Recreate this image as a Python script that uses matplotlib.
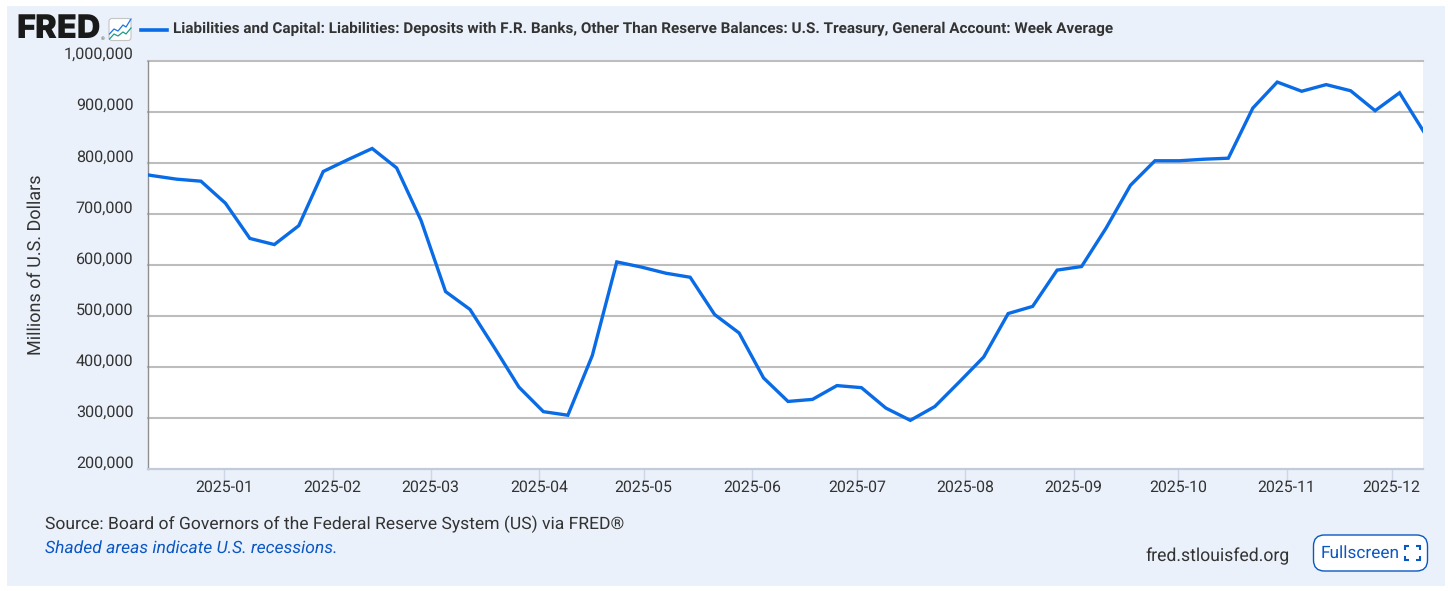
import matplotlib
matplotlib.use("Agg")
import matplotlib.pyplot as plt
import matplotlib.dates as mdates
from matplotlib.lines import Line2D
from matplotlib.patches import Rectangle, FancyBboxPatch
from matplotlib.transforms import offset_copy
import numpy as np
import pandas as pd

plt.rcParams['font.family'] = ['Roboto', 'DejaVu Sans']
plt.rcParams['text.hinting'] = 'none'
plt.rcParams['text.hinting_factor'] = 8

W, H = 1456, 591
start_date = "2024-12-04 07:00"
values_k = [783, 775, 768, 764, 721, 652, 640, 677, 783, 806, 828, 790, 687,
            548, 513, 438, 361, 313, 306, 423, 606, 596, 584, 576, 503, 467,
            379, 333, 337, 364, 360, 320, 296, 323, 371, 420, 505, 519, 590,
            597, 672, 756, 804, 804, 807, 809, 907, 958, 940, 953, 941, 902,
            937, 860]
y_ticks = [200000, 300000, 400000, 500000, 600000, 700000, 800000, 900000, 1000000]
x_ticks = ["2025-%02d-01" % m for m in range(1, 13)]
title = ("Liabilities and Capital: Liabilities: Deposits with F.R. Banks, Other Than "
         "Reserve Balances: U.S. Treasury, General Account: Week Average")
ylabel = "Millions of U.S. Dollars"
source = "Source: Board of Governors of the Federal Reserve System (US) via FRED®"
note = "Shaded areas indicate U.S. recessions."
site = "fred.stlouisfed.org"

BG = "#EAF1FA"
BLUE = "#0A6BE6"
LINK = "#0B57C4"
TEXT = "#333333"
GRID = "#BDBDBD"

dates = pd.date_range(start_date, periods=len(values_k), freq="7D")
vals = np.array(values_k) * 1000

fig = plt.figure(figsize=(W / 100, H / 100), dpi=100, facecolor="white")

def fx(p): return p / W
def fy(p): return 1 - p / H

fig.add_artist(Rectangle((fx(7), fy(586)), 1438 / W, 580 / H, transform=fig.transFigure,
                         facecolor=BG, edgecolor="none", zorder=-5))

ax = fig.add_axes([fx(147.5), fy(469.4), (1423 - 147.5) / W, (469.4 - 60.6) / H], facecolor="white")
ax.plot(dates, vals, color=BLUE, lw=2.4, solid_joinstyle="miter", zorder=3)
ax.set_xlim(pd.Timestamp("2024-12-10"), pd.Timestamp("2025-12-10"))
ax.set_ylim(200000, 1000000)

ax.set_yticks(y_ticks)
ax.set_yticklabels([f"{v:,}" for v in y_ticks])
ax.set_xticks(pd.to_datetime(x_ticks))
ax.xaxis.set_major_formatter(mdates.DateFormatter("%Y-%m"))
ax.grid(axis="y", color=GRID, lw=1.5, zorder=1)
for gl in ax.get_ygridlines():
    gl.set_clip_on(False)
ax.set_axisbelow(True)
for s in ("top", "right"):
    ax.spines[s].set_visible(False)
ax.spines["left"].set_color("#8f8f8f")
ax.spines["left"].set_linewidth(1.0)
ax.spines["bottom"].set_color("#C3CBDB")
ax.spines["bottom"].set_linewidth(1.5)
ax.tick_params(axis="y", length=0, pad=10.2, labelsize=11.6, labelcolor=TEXT)
ax.tick_params(axis="x", length=8.5, width=1, color="#CDD6E6", pad=-1, labelsize=11.4, labelcolor=TEXT)
for lab in ax.get_yticklabels():
    lab.set_transform(offset_copy(lab.get_transform(), fig=fig, x=0, y=7.5, units="dots"))

fig.text(fx(36), fy(264.5), ylabel, rotation=90, ha="center", va="center",
         fontsize=13, color=TEXT)

# header
fig.text(fx(16), fy(29.5), "FRED", fontsize=23.5, fontweight="black", color="#1A1A1A",
         ha="left", va="center", family="Inter")
fig.text(fx(100.5), fy(39), "®", fontsize=3.5, color="#555555", ha="left", va="center")
fig.add_artist(FancyBboxPatch((fx(109), fy(40.5)), 22 / W, 22 / H, transform=fig.transFigure,
                              boxstyle="round,pad=0,rounding_size=0.002", facecolor="white",
                              edgecolor="#C4C4C4", lw=0.8, mutation_aspect=W / H))
icon_a = [(109.5, 34), (114, 29), (118, 31), (123, 25), (126, 27), (131, 19)]
icon_b = [(109.5, 39), (114, 34), (118, 36), (123, 32), (126, 34), (131, 28)]
for pts, c in ((icon_a, "#1E73E0"), (icon_b, "#1F9A8A")):
    fig.add_artist(Line2D([fx(p[0]) for p in pts], [fy(p[1]) for p in pts],
                          transform=fig.transFigure, color=c, lw=0.9))
fig.add_artist(Line2D([fx(141), fx(167)], [fy(29.5), fy(29.5)], transform=fig.transFigure,
                      color=BLUE, lw=2.6))
fig.text(fx(173), fy(28.5), title, fontsize=11.0, fontweight="bold", color="#333333",
         ha="left", va="center")

# footer
fig.text(fx(45), fy(524), source, fontsize=12.6, color=TEXT, ha="left", va="center")
fig.text(fx(45), fy(548.5), note, fontsize=12.6, color=LINK, style="italic", ha="left", va="center")
fig.text(fx(1145.5), fy(556.5), site, fontsize=12.7, color=TEXT, ha="left", va="center")

fig.add_artist(FancyBboxPatch((fx(1313.5), fy(571)), 114 / W, 36 / H, transform=fig.transFigure,
                              boxstyle="round,pad=0,rounding_size=0.0075", facecolor="white",
                              edgecolor=LINK, lw=1.0, mutation_aspect=W / H))
fig.text(fx(1321), fy(553.5), "Fullscreen", fontsize=12.4, color=LINK, ha="left", va="center")
for cx, cy, dx, dy in ((1405, 546, 1, 1), (1420, 546, -1, 1), (1405, 560, 1, -1), (1420, 560, -1, -1)):
    fig.add_artist(Line2D([fx(cx + 4 * dx), fx(cx), fx(cx)], [fy(cy), fy(cy), fy(cy + 4 * dy)],
                          transform=fig.transFigure, color=LINK, lw=1.5,
                          solid_joinstyle="miter", solid_capstyle="butt"))

fig.savefig("out.png", dpi=100, facecolor="white")
